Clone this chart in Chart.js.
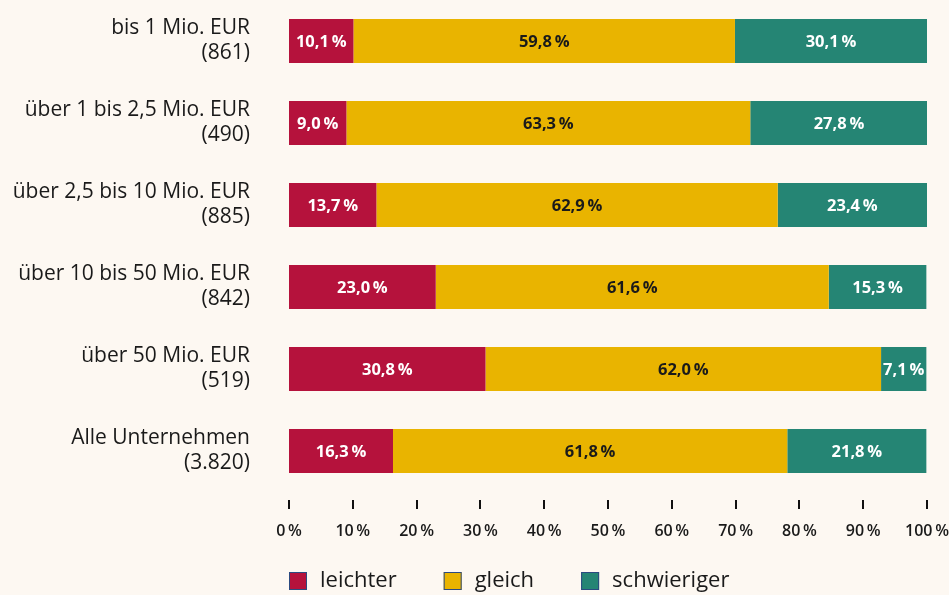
<!DOCTYPE html>
<html lang="de">
<head>
<meta charset="utf-8">
<script src="https://cdn.jsdelivr.net/npm/chart.js@4"></script>
<style>
    html, body { margin: 0; padding: 0; background: #fdf8f2; }
    #wrap { width: 949px; height: 595px; position: relative; }
</style>
</head>
<body>
<div id="wrap"><canvas id="chart"></canvas></div>
<script>
// Kategorien (Umsatzklassen mit Fallzahl)
const categories = [
    ["bis 1 Mio. EUR", "(861)"],
    ["über 1 bis 2,5 Mio. EUR", "(490)"],
    ["über 2,5 bis 10 Mio. EUR", "(885)"],
    ["über 10 bis 50 Mio. EUR", "(842)"],
    ["über 50 Mio. EUR", "(519)"],
    ["Alle Unternehmen", "(3.820)"],
];

const seriesNames = ["leichter", "gleich", "schwieriger"];
const leichter = [10.1, 9.0, 13.7, 23.0, 30.8, 16.3];
const gleich = [59.8, 63.3, 62.9, 61.6, 62.0, 61.8];
const schwieriger = [30.1, 27.8, 23.4, 15.3, 7.1, 21.8];
const tickValues = [0, 10, 20, 30, 40, 50, 60, 70, 80, 90, 100];

const colors = ["#b5123c", "#e9b400", "#258574"];
const labelColors = ["#ffffff", "#1a1a1a", "#ffffff"];
const FONT = "'Open Sans', 'Noto Sans', sans-serif";
const TEXT = "#1a1a1a";

function formatPct(value, digits) {
    return value.toFixed(digits).replace(".", ",") + "\u2009%";
}

const barLabels = {
    id: "barLabels",
    afterDatasetsDraw(chart) {
        const { ctx } = chart;
        ctx.save();
        ctx.font = `bold 16.5px ${FONT}`;
        ctx.textAlign = "center";
        ctx.textBaseline = "middle";
        chart.data.datasets.forEach((ds, i) => {
            const meta = chart.getDatasetMeta(i);
            meta.data.forEach((bar, j) => {
                ctx.fillStyle = labelColors[i];
                ctx.fillText(formatPct(ds.data[j], 1), (bar.x + bar.base) / 2, bar.y + 1);
            });
        });
        ctx.restore();
    },
};

// kleine Striche unter der Achse, etwas abgesetzt
const axisTicks = {
    id: "axisTicks",
    afterDraw(chart) {
        const { ctx, chartArea } = chart;
        const scale = chart.scales.x;
        const top = chartArea.bottom + 8;
        ctx.save();
        ctx.fillStyle = "#111111";
        tickValues.forEach((v) => {
            const px = Math.round(scale.getPixelForValue(v));
            ctx.fillRect(px - 1, top, 2, 9);
        });
        ctx.restore();
    },
};

const bottomLegend = {
    id: "bottomLegend",
    afterDraw(chart) {
        const { ctx, chartArea } = chart;
        const cy = 581;
        let x = chartArea.left;
        ctx.save();
        ctx.font = `22px ${FONT}`;
        ctx.textBaseline = "middle";
        chart.data.datasets.forEach((ds) => {
            ctx.fillStyle = ds.backgroundColor;
            ctx.fillRect(x, cy - 9, 18, 18);
            ctx.strokeStyle = "#2b4a80";
            ctx.lineWidth = 1;
            ctx.strokeRect(x + 0.5, cy - 8.5, 17, 17);
            ctx.fillStyle = TEXT;
            ctx.fillText(ds.label, x + 31, cy);
            x += 31 + ctx.measureText(ds.label).width + 47;
        });
        ctx.restore();
    },
};

const seriesData = [leichter, gleich, schwieriger];

new Chart(document.getElementById("chart"), {
    type: "bar",
    data: {
        labels: categories,
        datasets: seriesNames.map((name, i) => ({
            label: name,
            data: seriesData[i],
            backgroundColor: colors[i],
            borderWidth: 0,
            categoryPercentage: 1,
            barPercentage: 44 / 82,
        })),
    },
    options: {
        indexAxis: "y",
        responsive: true,
        maintainAspectRatio: false,
        animation: false,
        layout: { padding: { top: 0, right: 22, bottom: 55, left: 0 } },
        scales: {
            x: {
                stacked: true,
                min: 0,
                max: 100,
                border: { display: false },
                grid: { display: false, drawTicks: false },
                afterBuildTicks: (scale) => {
                    scale.ticks = tickValues.map((v) => ({ value: v }));
                },
                afterFit: (scale) => {
                    scale.height = 48;
                    scale.paddingLeft = 0;
                    scale.paddingRight = 0;
                },
                ticks: {
                    padding: 30,
                    color: TEXT,
                    font: { family: FONT, size: 16, weight: "600" },
                    callback: (v) => v + "\u2009%",
                },
            },
            y: {
                stacked: true,
                border: { display: false },
                grid: { display: false, drawTicks: false },
                afterFit: (scale) => {
                    scale.width = 289;
                    scale.paddingTop = 0;
                    scale.paddingBottom = 0;
                },
                ticks: {
                    padding: 39,
                    color: TEXT,
                    font: { family: FONT, size: 21, lineHeight: 25 / 21 },
                },
            },
        },
        plugins: {
            legend: { display: false },
            tooltip: { enabled: false },
        },
    },
    plugins: [barLabels, axisTicks, bottomLegend],
});
</script>
</body>
</html>
